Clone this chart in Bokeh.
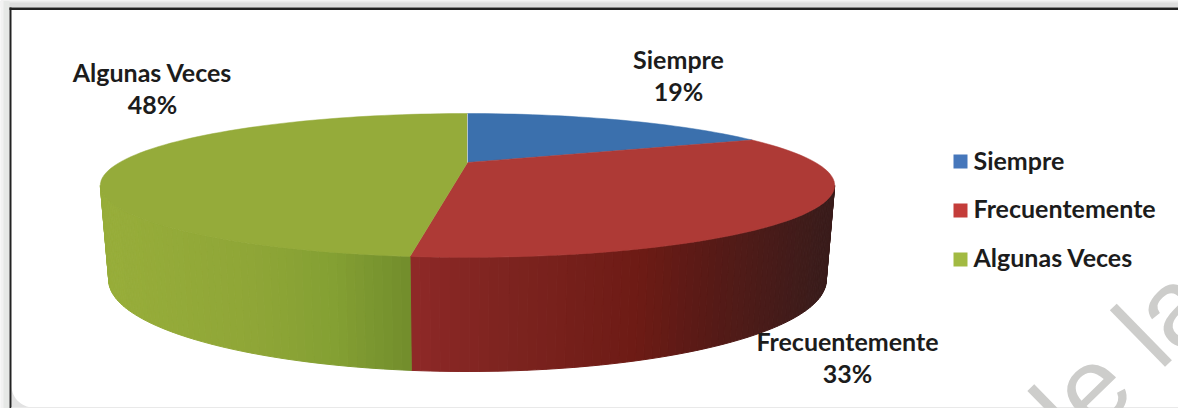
import math
from bokeh.plotting import figure
from bokeh.models import Range1d
from bokeh.core.properties import value
from bokeh.embed import file_html
from bokeh.resources import INLINE

categories = ["Siempre", "Frecuentemente", "Algunas Veces"]
percents = [18.6, 33.2, 48.2]
top_colors = ["#3b70ad", "#ae3a36", "#95ab3a"]
legend_colors = ["#4677bb", "#c43d3a", "#a2ba42"]
watermark = "de la"

W, H = 1178, 408
FONT = value("Lato")
INK = "#1c1c1c"

p = figure(width=W, height=H, output_backend="svg", toolbar_location=None,
           x_range=Range1d(0, W), y_range=Range1d(H, 0), margin=(0, 0, 0, 0),
           min_border=0, min_border_left=0, min_border_right=0,
           min_border_top=0, min_border_bottom=0,
           background_fill_color="white", border_fill_color="white")
p.axis.visible = False
p.grid.visible = False
p.outline_line_color = None

# Perspective projection of the pie disc
K = 0.319
CX = 467
TOP = dict(cy=162.0, a=64.6, b=348.0)
BOT = dict(cy=250.6, a=82.0, b=340.0)


def rim(deg, d):
    t = math.radians(deg)
    u, v = math.sin(t), math.cos(t)
    den = 1 + K * v
    return CX + d["b"] * u / den, d["cy"] - d["a"] * v / den


def hex2rgb(h):
    return tuple(int(h[i:i + 2], 16) for i in (1, 3, 5))


def ramp(stops, x):
    for (x0, c0), (x1, c1) in zip(stops, stops[1:]):
        if x <= x1:
            f = max(0.0, (x - x0) / (x1 - x0))
            a, b = hex2rgb(c0), hex2rgb(c1)
            return "#%02x%02x%02x" % tuple(round(a[i] + (b[i] - a[i]) * f) for i in range(3))
    return stops[-1][1]


# frame, shadow and rounded corner
p.quad(left=0, right=W, top=0, bottom=7, fill_color="#dedede", line_color=None)
p.quad(left=0, right=W, top=0, bottom=2, fill_color="#ececec", line_color=None)
p.quad(left=0, right=9, top=0, bottom=H, fill_color="#e6e8e6", line_color=None)
p.quad(left=0, right=3, top=0, bottom=H, fill_color="#f2f2f2", line_color=None)
cor = [(11, 383)] + [(11 + 22 * (1 - math.cos(math.radians(a))), 385 + 22 * math.sin(math.radians(a)))
                     for a in range(0, 91, 6)] + [(11, 407)]
p.patch([c[0] for c in cor], [c[1] for c in cor], fill_color="#e2e2e2", line_color=None)
p.quad(left=9, right=W, top=7, bottom=9.5, fill_color="#222222", line_color=None)
p.quad(left=9, right=11, top=7, bottom=H, fill_color="#222222", line_color=None)
p.quad(left=11, right=W, top=406.5, bottom=H, fill_color="#e9e9e9", line_color=None)

# watermark
p.text(x=[1108.8], y=[367.7], text=[watermark], angle=[math.radians(44.3)],
       text_font=value("Liberation Sans"), text_font_size="109px", text_color="#cdcdcb",
       text_align="center", text_baseline="alphabetic")

# slice boundaries
cum = [0]
for v in percents:
    cum.append(cum[-1] + v)
angles = [c * 3.6 for c in cum]

# extreme left/right of the disc
edge = math.degrees(math.acos(-K))
red_stops = [(409, "#902a28"), (430, "#8a2725"), (500, "#7e2420"), (640, "#6d1b15"), (700, "#5a1a16"), (826, "#3a1c1b")]
green_stops = [(108, "#97ad3a"), (250, "#8fa637"), (330, "#84a033"), (409, "#728d2c")]


def side(a0, a1, stops, n):
    for i in range(n):
        t0 = a0 + (a1 - a0) * i / n
        t1 = a0 + (a1 - a0) * (i + 1) / n
        pts = [rim(t0, TOP), rim(t1, TOP), rim(t1, BOT), rim(t0, BOT)]
        col = ramp(stops, (pts[0][0] + pts[1][0]) / 2)
        p.patch([q[0] for q in pts], [q[1] for q in pts], fill_color=col, line_color=col, line_width=1)


side(edge, angles[2], red_stops, 70)
side(angles[2], 360 - edge, green_stops, 60)

# top face
for i, col in enumerate(top_colors):
    a0, a1 = angles[i], angles[i + 1]
    n = max(8, int((a1 - a0) / 2))
    pts = [(CX, TOP["cy"])] + [rim(a0 + (a1 - a0) * j / n, TOP) for j in range(n + 1)]
    p.patch([q[0] for q in pts], [q[1] for q in pts], fill_color=col, line_color=col, line_width=0.5)
p.line([CX, CX], [TOP["cy"], TOP["cy"] - TOP["a"] / (1 + K)], line_color="#b4c4c8", line_width=1)

# data labels
label_xy = [(678, 58), (847, 340), (152, 71)]
for (lx, ly), c, v in zip(label_xy, categories, percents):
    p.text(x=[lx, lx], y=[ly, ly + 32], text=[c, f"{round(v)}%"], text_font=FONT, text_font_style="bold",
           text_font_size="25px", text_color=INK, text_align="center", text_baseline="middle")

# legend
legend_y = [159, 207, 256]
swatch_y = [161, 210, 259]
for ly, sy, c, col in zip(legend_y, swatch_y, categories, legend_colors):
    p.quad(left=953, right=967, top=sy - 7, bottom=sy + 7, fill_color=col, line_color=None)
    p.text(x=[973], y=[ly], text=[c], text_font=FONT, text_font_style="bold",
           text_font_size="25px", text_color=INK, text_align="left", text_baseline="middle")

open("out.html", "w").write(file_html(p, INLINE))
